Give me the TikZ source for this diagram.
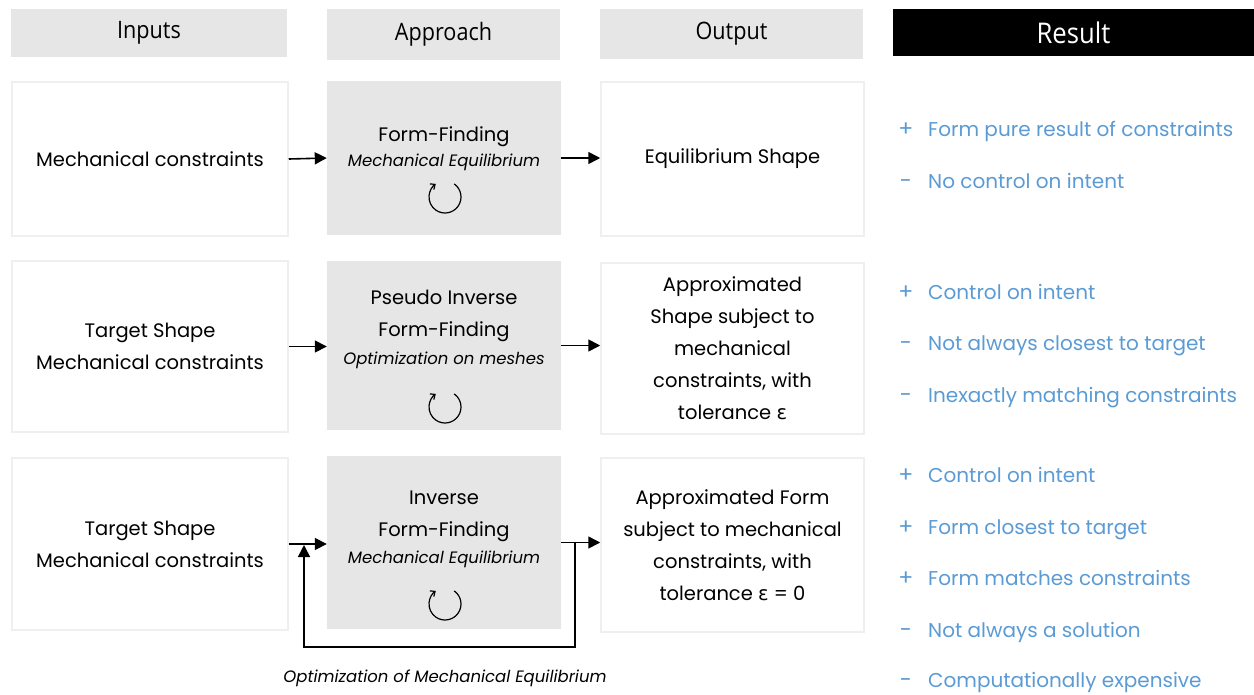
\documentclass[tikz,border=0pt]{standalone}
\usepackage{fontspec}
\setmainfont{Poppins}
\newfontfamily\hdfont[FakeStretch=0.9]{Open Sans}
\newfontfamily\grk{DejaVu Sans}
\usetikzlibrary{arrows.meta,calc}
\definecolor{boxgray}{HTML}{E6E6E6}
\definecolor{edgegray}{HTML}{EFEFEF}
\definecolor{resblue}{HTML}{5B9BD5}
\tikzset{
  hdr/.style={fill=boxgray, draw=none, inner sep=0pt, font=\hdfont\fontsize{24}{26}\selectfont},
  whitebox/.style={draw=edgegray, line width=1.5pt, fill=white, align=center, inner sep=0pt,
    font=\fontsize{19.5}{32}\selectfont},
  graybox/.style={fill=boxgray, draw=none, inner sep=0pt},
  aptitle/.style={align=center, inner sep=0pt, font=\fontsize{19.5}{32}\selectfont},
  apsub/.style={inner sep=0pt, font=\itshape\fontsize{16.5}{18}\selectfont},
  conn/.style={line width=1.6pt, -{Triangle[length=12pt,width=12pt]}},
  loopline/.style={line width=1.2pt, -{Straight Barb[length=4pt,width=7pt]}},
  res/.style={text=resblue, anchor=base west, inner sep=0pt, font=\fontsize{20}{22}\selectfont},
  sgn/.style={text=resblue, inner sep=0pt, anchor=base, font=\fontsize{22}{24}\selectfont},
}
\begin{document}
\begin{tikzpicture}[x=1pt,y=-1pt]
\useasboundingbox[fill=white] (0,0) rectangle (1254,694);
% headers
\node[hdr, minimum width=276pt, minimum height=48pt] (hin) at (149,33) {Inputs};
\node[hdr, minimum width=233pt, minimum height=51pt] (hap) at (443.5,34.5) {Approach};
\node[hdr, minimum width=263pt, minimum height=50pt] (hout) at (731.5,34) {Output};
\node[hdr, fill=black, text=white, minimum width=361pt, minimum height=47pt,
  font=\hdfont\fontsize{28.5}{30}\selectfont] (hres) at (1073.5,32.5) {Result};
% row 1
\node[whitebox, minimum width=276pt, minimum height=154pt] (in1) at (150,159) {Mechanical constraints};
\node[graybox, minimum width=234pt, minimum height=154pt] (ap1) at (444,158) {};
\node[whitebox, minimum width=263pt, minimum height=154pt] (out1) at (732.5,159) {Equilibrium Shape};
\node[aptitle] (ap1t) at (444,137) {Form-Finding};
\node[apsub] (ap1s) at (444,162) {Mechanical Equilibrium};
\coordinate (lp1) at (445,197);
% row 2
\node[whitebox, minimum width=276pt, minimum height=171pt] (in2) at (150,346.5) {Target Shape\\Mechanical constraints};
\node[graybox, minimum width=234pt, minimum height=169pt] (ap2) at (444,345.5) {};
\node[whitebox, minimum width=263pt, minimum height=171pt] (out2) at (732.5,348.5)
  {Approximated\\Shape subject to\\mechanical\\constraints, with\\tolerance {\grk ε}};
\node[aptitle] (ap2t) at (444,316) {Pseudo Inverse\\Form-Finding};
\node[apsub] (ap2s) at (444,360) {Optimization on meshes};
\coordinate (lp2) at (445,407);
% row 3
\node[whitebox, minimum width=276pt, minimum height=172pt] (in3) at (150,544) {Target Shape\\Mechanical constraints};
\node[graybox, minimum width=234pt, minimum height=173pt] (ap3) at (444,542.5) {};
\node[whitebox, minimum width=263pt, minimum height=174pt] (out3) at (732.5,545)
  {Approximated Form\\subject to mechanical\\constraints, with\\tolerance {\grk ε} = 0};
\node[aptitle] (ap3t) at (444,516) {Inverse\\Form-Finding};
\node[apsub] (ap3s) at (444,559) {Mechanical Equilibrium};
\coordinate (lp3) at (445,604);
% loop symbols
\foreach \c in {lp1,lp2,lp3}{
  \draw[loopline] ($(\c)+(-55:16)$) arc[start angle=-55, end angle=235, radius=16];
}
% connectors
\draw[conn] (in1.east) -- (ap1.west);
\draw[conn] (ap1.east) -- (ap1.east -| out1.west);
\draw[conn] (in2.east) -- (in2.east -| ap2.west);
\draw[conn] (ap2.east) -- (ap2.east -| out2.west);
\draw[conn] (in3.east) -- (in3.east -| ap3.west);
\draw[conn] (ap3.east) -- (ap3.east -| out3.west);
\coordinate (fbR) at (575,647);
\coordinate (fbL) at (304,647);
\draw[conn] (ap3.east -| fbR) -- (fbR) -- (fbL) -- ($(fbL |- in3.east)+(0,1)$);
\node[apsub] (fblab) at (445,678) {Optimization of Mechanical Equilibrium};
% results
\coordinate (sx) at (906,0);
\node[res] (r11) at (928,136) {Form pure result of constraints};
\node[res] (r12) at (928,188) {No control on intent};
\node[res] (r21) at (928,299) {Control on intent};
\node[res] (r22) at (928,350) {Not always closest to target};
\node[res] (r23) at (928,402) {Inexactly matching constraints};
\node[res] (r31) at (928,482) {Control on intent};
\node[res] (r32) at (928,534) {Form closest to target};
\node[res] (r33) at (928,585) {Form matches constraints};
\node[res] (r34) at (928,637) {Not always a solution};
\node[res] (r35) at (928,687) {Computationally expensive};
\node[sgn] (s11) at (r11.base -| sx) {+};
\node[sgn] (s12) at (r12.base -| sx) {-};
\node[sgn] (s21) at (r21.base -| sx) {+};
\node[sgn] (s22) at (r22.base -| sx) {-};
\node[sgn] (s23) at (r23.base -| sx) {-};
\node[sgn] (s31) at (r31.base -| sx) {+};
\node[sgn] (s32) at (r32.base -| sx) {+};
\node[sgn] (s33) at (r33.base -| sx) {+};
\node[sgn] (s34) at (r34.base -| sx) {-};
\node[sgn] (s35) at (r35.base -| sx) {-};
\end{tikzpicture}
\end{document}
